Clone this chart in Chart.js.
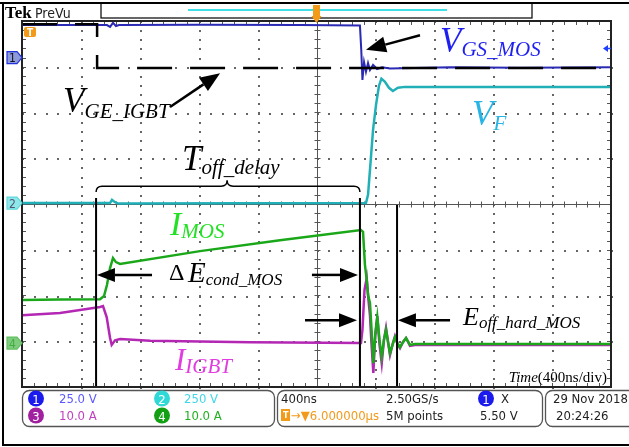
<!DOCTYPE html>
<html>
<head>
<meta charset="utf-8">
<script src="https://cdn.jsdelivr.net/npm/chart.js@4.4.1/dist/chart.umd.min.js"></script>
<style>
  html, body { margin: 0; padding: 0; background: #fff; }
  #wrap { position: relative; width: 629px; height: 447px; }
</style>
</head>
<body>
<div id="wrap"><canvas id="scope"></canvas></div>
<script>
// time in ns (400 ns/div, trigger at centre), levels in screen divisions
var tGE = [-2000, -1490, -1490, 2000];
var vGE = [3.93, 3.93, 2.97, 2.97];

var tGS = [-2000, -1423, -1402, -1382, -1362, -1341, -791, -112, 295, 304, 312, 323, 336, 350, 363, 384, 411, 445, 499, 907, 1382, 2000];
var vGS = [3.91, 3.91, 3.87, 3.96, 3.89, 3.91, 3.92, 3.91, 3.90, 3.37, 2.71, 3.10, 2.89, 3.08, 2.93, 3.04, 2.95, 2.99, 2.96, 2.99, 2.98, 2.99];

var tVF = [-2000, -1402, -1389, -1368, -1348, 336, 350, 363, 384, 404, 424, 441, 465, 492, 519, 553, 601, 2000];
var vVF = [0.02, 0.02, 0.09, 0.04, 0.01, 0.02, 0.20, 0.74, 1.62, 2.16, 2.58, 2.74, 2.67, 2.54, 2.47, 2.54, 2.56, 2.56];

var tMOS = [-2000, -1742, -1470, -1443, -1423, -1402, -1382, -1362, -1334, -791, -248, 302, 316, 329, 341, 350, 363, 374, 386, 399, 413, 428, 443, 458, 472, 486, 499, 516, 533, 550, 567, 587, 608, 635, 669, 2000];
var iMOS = [-2.10, -2.09, -2.08, -2.01, -1.77, -1.40, -1.18, -1.27, -1.31, -1.03, -0.79, -0.57, -0.61, -1.33, -1.66, -1.99, -2.16, -2.75, -3.48, -2.86, -2.47, -2.97, -3.34, -2.97, -2.75, -3.02, -3.26, -3.08, -2.91, -3.04, -3.13, -3.02, -2.93, -3.08, -3.06, -3.06];

var tIGBT = [-2000, -1742, -1470, -1450, -1425, -1402, -1391, -1368, -1334, -1130, -452, 302, 312, 326, 341, 353, 363, 374, 386, 399, 413, 428, 443, 458, 472, 486, 499, 516, 533, 550, 567, 587, 608, 635, 669, 2000];
var iIGBT = [-2.43, -2.38, -2.25, -2.23, -2.47, -2.93, -3.08, -2.98, -2.95, -2.99, -3.02, -3.04, -2.75, -1.88, -1.62, -2.10, -2.43, -3.08, -3.69, -2.86, -2.45, -3.08, -3.48, -2.97, -2.71, -3.02, -3.30, -3.08, -2.89, -3.06, -3.15, -3.02, -2.93, -3.10, -3.08, -3.08];

// measurement cursors
var cursorT = [-1497, 295, 547];
var cursorTop = [0.13, 0.13, -0.02];

function pts(t, v) {
  var out = [];
  for (var i = 0; i < t.length; i++) out.push({x: t[i], y: v[i]});
  return out;
}

var datasets = [];
for (var c = 0; c < cursorT.length; c++) {
  datasets.push({ data: pts([cursorT[c], cursorT[c]], [cursorTop[c], -4]), borderColor: '#000', borderWidth: 2 });
}
datasets.push({ data: pts(tGE, vGE), borderColor: '#000', borderWidth: 2.5, borderDash: [35, 18] });
datasets.push({ data: pts(tMOS, iMOS), borderColor: '#1aa81a', borderWidth: 2.5 });
datasets.push({ data: pts(tIGBT, iIGBT), borderColor: '#b427b4', borderWidth: 2.5 });
datasets.push({ data: pts(tGS, vGS), borderColor: '#2a2ab4', borderWidth: 2 });
datasets.push({ data: pts(tVF, vVF), borderColor: '#22b0b8', borderWidth: 2.5 });

var serif = "'Liberation Serif', 'Times New Roman', serif";
var scopeFont = "'DejaVu Sans Condensed', 'Liberation Sans Narrow', 'Liberation Sans', sans-serif";

// scope graticule: dotted divisions, centre cross and framed edges with minor ticks
var graticule = {
  id: 'graticule',
  beforeDatasetsDraw: function(chart) {
    var ctx = chart.ctx, a = chart.chartArea;
    var sx = chart.scales.x, sy = chart.scales.y;
    var t, v, x, y;
    ctx.save();
    ctx.fillStyle = '#666';
    for (t = -1600; t <= 1600; t += 400) {
      if (t === 0) continue;
      x = Math.round(sx.getPixelForValue(t));
      for (v = -4; v <= 4.001; v += 0.2) ctx.fillRect(x, Math.round(sy.getPixelForValue(v)), 2, 2);
    }
    for (v = -3; v <= 3; v++) {
      if (v === 0) continue;
      y = Math.round(sy.getPixelForValue(v));
      for (t = -2000; t <= 2000; t += 80) ctx.fillRect(Math.round(sx.getPixelForValue(t)), y, 2, 2);
    }
    var cx = Math.round(sx.getPixelForValue(0)) + 0.5;
    var cy = Math.round(sy.getPixelForValue(0)) + 0.5;
    ctx.strokeStyle = '#555';
    ctx.lineWidth = 1;
    ctx.beginPath();
    ctx.moveTo(a.left, cy); ctx.lineTo(a.right, cy);
    ctx.moveTo(cx, a.top); ctx.lineTo(cx, a.bottom);
    for (t = -2000; t <= 2000; t += 80) {
      x = Math.round(sx.getPixelForValue(t)) + 0.5;
      ctx.moveTo(x, cy - 3); ctx.lineTo(x, cy + 3);
      ctx.moveTo(x, a.top); ctx.lineTo(x, a.top + 4);
      ctx.moveTo(x, a.bottom); ctx.lineTo(x, a.bottom - 4);
    }
    for (v = -4; v <= 4.001; v += 0.2) {
      y = Math.round(sy.getPixelForValue(v)) + 0.5;
      ctx.moveTo(cx - 3, y); ctx.lineTo(cx + 3, y);
      ctx.moveTo(a.left, y); ctx.lineTo(a.left + 4, y);
      ctx.moveTo(a.right, y); ctx.lineTo(a.right - 4, y);
    }
    ctx.stroke();
    ctx.restore();
  },
  afterDatasetsDraw: function(chart) {
    var ctx = chart.ctx, a = chart.chartArea;
    ctx.save();
    ctx.strokeStyle = '#222';
    ctx.lineWidth = 2;
    ctx.strokeRect(a.left, a.top, a.right - a.left, a.bottom - a.top);
    ctx.restore();
  }
};

function arrow(ctx, x0, y0, x1, y1, hl, hw) {
  var ang = Math.atan2(y1 - y0, x1 - x0);
  var bx = x1 - hl * Math.cos(ang), by = y1 - hl * Math.sin(ang);
  ctx.beginPath(); ctx.moveTo(x0, y0); ctx.lineTo(bx, by); ctx.stroke();
  ctx.beginPath();
  ctx.moveTo(x1, y1);
  ctx.lineTo(bx + hw * Math.sin(ang), by - hw * Math.cos(ang));
  ctx.lineTo(bx - hw * Math.sin(ang), by + hw * Math.cos(ang));
  ctx.closePath(); ctx.fill();
}

function subLabel(ctx, x, y, main, sub, mainPx, subPx, drop, color) {
  ctx.fillStyle = color;
  ctx.font = 'italic ' + mainPx + 'px ' + serif;
  ctx.fillText(main, x, y);
  var w = ctx.measureText(main).width;
  ctx.font = 'italic ' + subPx + 'px ' + serif;
  ctx.fillText(sub, x + w, y + drop);
}

function badge(ctx, x, y, txt, fill) {
  ctx.fillStyle = fill;
  ctx.beginPath(); ctx.arc(x, y, 8, 0, Math.PI * 2); ctx.fill();
  ctx.fillStyle = '#fff';
  ctx.font = '13px ' + scopeFont;
  ctx.textAlign = 'center';
  ctx.fillText(txt, x, y + 5);
  ctx.textAlign = 'left';
}

function chanMarker(ctx, y, txt, fill, edge, ink) {
  ctx.fillStyle = fill; ctx.strokeStyle = edge; ctx.lineWidth = 1.2;
  ctx.beginPath();
  ctx.moveTo(7, y - 6); ctx.lineTo(17, y - 6); ctx.lineTo(22, y);
  ctx.lineTo(17, y + 6); ctx.lineTo(7, y + 6); ctx.closePath();
  ctx.fill(); ctx.stroke();
  ctx.fillStyle = ink;
  ctx.font = '12px ' + scopeFont;
  ctx.fillText(txt, 9, y + 4.5);
}

var annotations = {
  id: 'annotations',
  afterDraw: function(chart) {
    var ctx = chart.ctx, a = chart.chartArea;
    var sx = chart.scales.x, sy = chart.scales.y;
    var X = function(t) { return sx.getPixelForValue(t); };
    var Y = function(v) { return sy.getPixelForValue(v); };
    ctx.save();

    // brace over the turn-off delay
    var x0 = X(cursorT[0]), x1 = X(cursorT[1]), xt = X(-607);
    var yEnd = Y(0.26), yMid = Y(0.39), yTip = Y(0.52);
    ctx.strokeStyle = '#000'; ctx.lineWidth = 1.5;
    ctx.beginPath();
    ctx.moveTo(x0, yEnd); ctx.quadraticCurveTo(x0, yMid, x0 + 6, yMid);
    ctx.lineTo(xt - 6, yMid); ctx.quadraticCurveTo(xt, yMid, xt, yTip);
    ctx.quadraticCurveTo(xt, yMid, xt + 6, yMid);
    ctx.lineTo(x1 - 6, yMid); ctx.quadraticCurveTo(x1, yMid, x1, yEnd);
    ctx.stroke();

    // arrows
    ctx.fillStyle = '#000'; ctx.lineWidth = 2.5;
    arrow(ctx, X(-995), Y(2.12), X(-655), Y(2.86), 20, 8);
    arrow(ctx, X(703), Y(3.69), X(336), Y(3.37), 20, 8);
    arrow(ctx, X(-1117), Y(-1.55), X(-1491), Y(-1.55), 18, 7);
    arrow(ctx, X(-31), Y(-1.55), X(282), Y(-1.55), 18, 7);
    arrow(ctx, X(-78), Y(-2.54), X(275), Y(-2.54), 18, 7);
    arrow(ctx, X(907), Y(-2.54), X(553), Y(-2.54), 18, 7);

    // trace labels
    subLabel(ctx, X(-1721), Y(2.01), 'V', 'GE_IGBT', 35, 21, 6, '#000');
    subLabel(ctx, X(839), Y(3.32), 'V', 'GS_MOS', 35, 21, 4, '#1f1ff0');
    subLabel(ctx, X(1056), Y(1.73), 'V', 'F', 35, 21, 5, '#28b4e4');
    subLabel(ctx, X(-913), Y(0.74), 'T', 'off_delay', 35, 21, 4, '#000');
    subLabel(ctx, X(-995), Y(-0.68), 'I', 'MOS', 34, 21, 3, '#22e022');
    ctx.fillStyle = '#000';
    ctx.font = '24px ' + serif;
    ctx.fillText('\u0394', X(-1002), Y(-1.66));
    subLabel(ctx, X(-873), Y(-1.70), 'E', 'cond_MOS', 29, 17, 3, '#000');
    subLabel(ctx, X(-961), Y(-3.63), 'I', 'IGBT', 31, 21, 3, '#e03ce0');
    subLabel(ctx, X(995), Y(-2.64), 'E', 'off_hard_MOS', 26, 17, 3, '#000');

    ctx.fillStyle = '#000';
    ctx.font = '15px ' + serif;
    var tail = '(400ns/div)';
    var wt = ctx.measureText(tail).width;
    var xr = X(1973);
    ctx.fillText(tail, xr - wt, Y(-3.89));
    ctx.font = 'italic 15px ' + serif;
    ctx.textAlign = 'right';
    ctx.fillText('Time', xr - wt, Y(-3.89));
    ctx.textAlign = 'left';

    // outer frame and header
    ctx.strokeStyle = '#000'; ctx.lineWidth = 2;
    ctx.beginPath();
    ctx.moveTo(0, 3); ctx.lineTo(629, 3);
    ctx.moveTo(3, 3); ctx.lineTo(3, 445);
    ctx.lineTo(629, 445);
    ctx.stroke();
    ctx.lineWidth = 1.2;
    ctx.strokeRect(101, 3, 431, 15);
    ctx.strokeStyle = '#40e0e8'; ctx.lineWidth = 2;
    ctx.beginPath(); ctx.moveTo(188, 10); ctx.lineTo(447, 10); ctx.stroke();
    ctx.fillStyle = '#000';
    ctx.font = 'bold 17px ' + serif;
    ctx.fillText('Tek', 5, 18);
    ctx.font = '14px ' + scopeFont;
    ctx.fillStyle = '#222';
    ctx.fillText('PreVu', 35, 18);

    // trigger position and level markers
    var tx = X(0);
    ctx.fillStyle = '#f29a1a';
    ctx.fillRect(tx - 3.5, 5, 7, 12);
    ctx.beginPath(); ctx.moveTo(tx - 5, 16); ctx.lineTo(tx + 5, 16); ctx.lineTo(tx, 23); ctx.closePath(); ctx.fill();
    ctx.beginPath(); ctx.roundRect(a.left + 2, a.top + 6, 12, 10, 2); ctx.fill();
    ctx.fillStyle = '#fff';
    ctx.font = 'bold 10px ' + scopeFont;
    ctx.fillText('T', a.left + 5, a.top + 15);

    // channel ground markers
    chanMarker(ctx, Y(3.2), '1', '#8d9ad8', '#2233dd', '#112');
    chanMarker(ctx, Y(0.02), '2', '#8ee8ea', '#60d8dc', '#557');
    chanMarker(ctx, Y(-3.04), '4', '#7fcc7f', '#60c060', '#4a4');

    // off-screen level marker on the right edge
    ctx.fillStyle = '#2040ff'; ctx.strokeStyle = '#2040ff'; ctx.lineWidth = 1.5;
    ctx.beginPath(); ctx.moveTo(603, 48.5); ctx.lineTo(608, 45); ctx.lineTo(608, 52); ctx.closePath(); ctx.fill();
    ctx.beginPath(); ctx.moveTo(607, 48.5); ctx.lineTo(611, 48.5); ctx.stroke();

    // status readout
    ctx.strokeStyle = '#555'; ctx.lineWidth = 1.3;
    ctx.beginPath(); ctx.roundRect(22.5, 390.5, 252, 36, 7); ctx.stroke();
    ctx.beginPath(); ctx.roundRect(277.5, 390.5, 265, 36, 7); ctx.stroke();
    ctx.beginPath(); ctx.roundRect(545.5, 390.5, 100, 36, 7); ctx.stroke();

    var r1 = 403, r2 = 420;
    badge(ctx, 36, r1 - 4.5, '1', '#1a1aee');
    badge(ctx, 36, r2 - 4.5, '3', '#a020a0');
    badge(ctx, 162, r1 - 4.5, '2', '#30d8d8');
    badge(ctx, 162, r2 - 4.5, '4', '#14a014');
    badge(ctx, 486, r1 - 4.5, '1', '#1a1aee');

    ctx.font = '13px ' + scopeFont;
    ctx.fillStyle = '#5a5aff'; ctx.fillText('25.0 V', 59, r1);
    ctx.fillStyle = '#c040c0'; ctx.fillText('10.0 A', 59, r2);
    ctx.fillStyle = '#40d8e8'; ctx.fillText('250 V', 184, r1);
    ctx.fillStyle = '#20b020'; ctx.fillText('10.0 A', 184, r2);
    ctx.fillStyle = '#222';
    ctx.fillText('400ns', 281, r1);
    ctx.fillText('2.50GS/s', 386, r1);
    ctx.fillText('5M points', 386, r2);
    ctx.fillText('X', 501, r1);
    ctx.fillText('5.50 V', 480, r2);
    ctx.fillText('29 Nov 2018', 553, r1);
    ctx.fillText('20:24:26', 556, r2);
    ctx.fillStyle = '#f29a1a';
    ctx.fillRect(281, r2 - 11, 9, 12);
    ctx.fillText('\u2192\u25BC6.000000\u00B5s', 291, r2);
    ctx.fillStyle = '#fff';
    ctx.font = 'bold 9px ' + scopeFont;
    ctx.fillText('T', 283, r2 - 2);

    ctx.restore();
  }
};

new Chart(document.getElementById('scope'), {
  type: 'line',
  data: { datasets: datasets },
  options: {
    responsive: true,
    maintainAspectRatio: false,
    animation: false,
    layout: { padding: { left: 22, top: 21, right: 18, bottom: 60 } },
    elements: { point: { radius: 0 }, line: { tension: 0, fill: false } },
    plugins: { legend: { display: false }, tooltip: { enabled: false } },
    scales: {
      x: { type: 'linear', min: -2000, max: 2000, display: false },
      y: { min: -4, max: 4, display: false }
    }
  },
  plugins: [graticule, annotations]
});
</script>
</body>
</html>
